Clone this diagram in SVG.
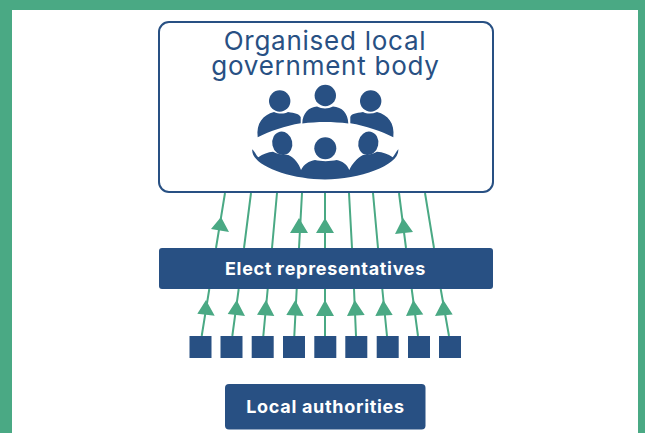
<svg xmlns="http://www.w3.org/2000/svg" width="645" height="433" viewBox="0 0 645 433">
<style>
.b{fill:#285083}
.c{stroke:#4aa984;stroke-width:2;fill:none}
.a{fill:#4aa984}
text{font-family:Inter,"Liberation Sans",sans-serif}
.t{fill:#285083;font-size:26px;font-weight:400;text-anchor:middle;letter-spacing:.75px}
.w{fill:#fff;font-size:18px;font-weight:700;text-anchor:middle;letter-spacing:.7px}
</style>
<rect width="645" height="433" fill="#fff"/>
<path id="frame" class="a" fill-rule="evenodd" d="M0 0H645V433H638V10H12V433H0Z"/>
<g id="connectors">
<path class="c" d="M225 193L216 248M251 193L244 248M277 193L272 248M302 193L299 248M325 193V248M349 193L352 248M373 193L378 248M399 193L406 248M425 193L434 248"/>
<path class="c" d="M201.700 336L209.300 289M232.300 336L238.700 289M263.300 336L267.700 289M294.300 336L296.700 289M325 336V289M356 336L354 289M387 336L382.300 289M418 336L411.700 289M449 336L440.700 289"/>
<path class="a" d="M221 217L211 229L229 232ZM299 218L290 233H308ZM325 218L316 233H334ZM403 218L395 234L413 232Z"/>
<path class="a" d="M206 300L197.300 313.700L214.700 315.700ZM236.700 300L227.700 314L245 316ZM266 300L257 314.700L274.300 316ZM295.300 300L286.300 315L303.700 316ZM325 300L316 316H334ZM354.700 300L347 316L364.700 315ZM383.300 300L375.300 316L392.700 315ZM413.300 300L406 316L423.300 314.500ZM443.300 300L435 316L452.700 314.500Z"/>
</g>
<g id="government-body">
<rect x="159" y="22" width="334" height="170" rx="10" fill="#fff" stroke="#285083" stroke-width="2"/>
<text class="t" x="325" y="50">Organised local</text>
<text class="t" x="325.500" y="75">government body</text>
<g class="b">
<circle cx="279.700" cy="101" r="10.700"/><circle cx="325.300" cy="95.500" r="10.700"/><circle cx="370.700" cy="101" r="10.700"/>
<path d="M257.700 137.300C256 123 263 115 274 112C279 114 284 114 288 112C295 113 299 114 300.700 117V123.300C285 126 270 131 257.700 137.300Z"/>
<path d="M302.300 123.500C302.500 113 309 107 317 106.500C322 109 328 109 333 106.500C342 107 348 113 348.300 123.500C333 121.500 317 121.500 302.300 123.500Z"/>
<path d="M393.300 137.300C395 123 388 115 377 112C372 114 367 114 363 112C356 113 351 114 350.300 117V123.300C366 126 381 131 393.300 137.300Z"/>
<ellipse cx="282.300" cy="143.300" rx="10" ry="11.800" transform="rotate(-12 282.300 143.300)"/>
<circle cx="325.300" cy="148.300" r="11"/>
<ellipse cx="368.300" cy="143.300" rx="10" ry="11.800" transform="rotate(12 368.300 143.300)"/>
<path d="M252.300 149.300C255 152 256 155 258.300 157.300C263 154 268 152 273 151.700C277 154 283 155 288.300 155C295 158 299 164 301 170C304 164 309 161 315 160C321 161.500 330 161.500 336.700 160C342 161 347 164 349.300 170C352 164 357 158 363 155C368 155 373 154 377 151.700C383 152 388 154 392.700 157.300C394.500 155 396 152 398.300 149.300C400 165 360 179.500 325 179.500C290 179.500 250 165 252.300 149.300Z"/>
</g>
</g>
<g id="elect-representatives">
<rect class="b" x="159" y="248" width="334" height="41" rx="3"/>
<text class="w" x="325.500" y="274.500">Elect representatives</text>
</g>
<g id="authorities" class="b">
<rect x="189.500" y="336" width="22" height="22"/><rect x="220.500" y="336" width="22" height="22"/><rect x="251.700" y="336" width="22" height="22"/><rect x="283" y="336" width="22" height="22"/><rect x="314.300" y="336" width="22" height="22"/><rect x="345.300" y="336" width="22" height="22"/><rect x="376.700" y="336" width="22" height="22"/><rect x="408" y="336" width="22" height="22"/><rect x="439" y="336" width="22" height="22"/>
</g>
<g id="local-authorities">
<rect class="b" x="225" y="384" width="200.500" height="45.500" rx="4"/>
<text class="w" x="325.500" y="413">Local authorities</text>
</g>
</svg>
